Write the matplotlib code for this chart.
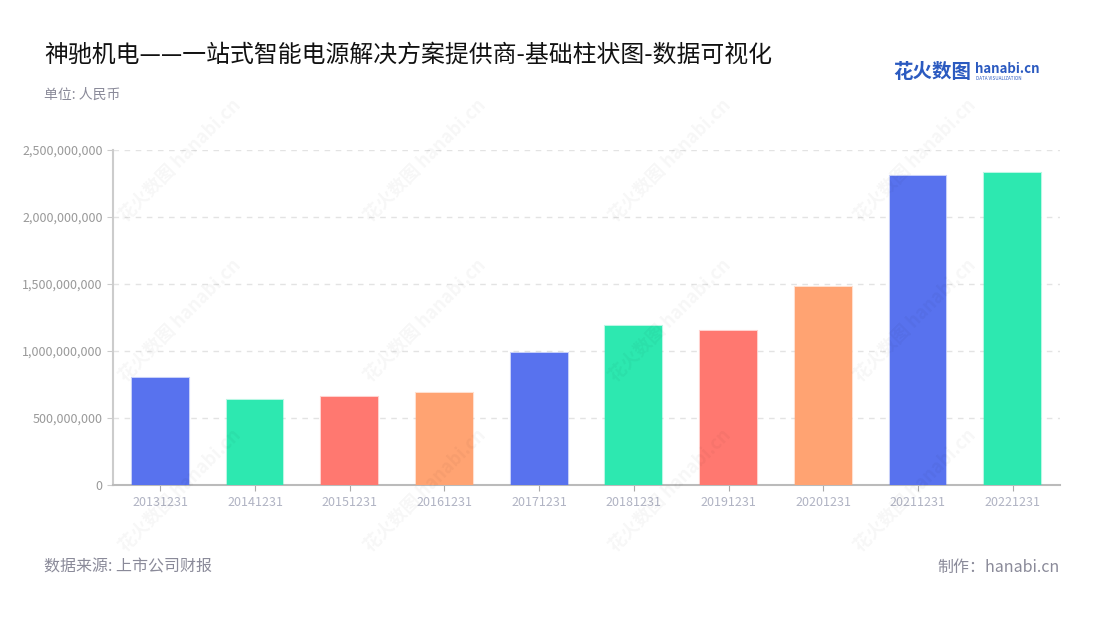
import matplotlib.pyplot as plt
from matplotlib.ticker import FuncFormatter

plt.rcParams['font.family'] = ['Noto Sans CJK SC', 'DejaVu Sans']

# 数据
dates = ['20131231', '20141231', '20151231', '20161231', '20171231',
         '20181231', '20191231', '20201231', '20211231', '20221231']
values = [800e6, 638e6, 653e6, 690e6, 988e6,
          1190e6, 1152e6, 1480e6, 2303e6, 2332e6]
palette = ['#5872EE', '#2DE8B0', '#FF7870', '#FFA372']
yticks = [0, 500e6, 1000e6, 1500e6, 2000e6, 2500e6]

fig = plt.figure(figsize=(11, 6.2), dpi=100)
ax = fig.add_axes([113/1100, 1-485/620, (1060-113)/1100, 335/620])

# 水印
for wx in [150, 395, 640, 885]:
    for wy in [170, 330, 500]:
        fig.text((wx+30)/1100, 1-(wy-10)/620, '花火数图 hanabi.cn', rotation=45,
                 fontsize=13, color='#000000', alpha=0.035, fontweight='bold',
                 ha='center', va='center', zorder=0)

cols = [palette[i % 4] for i in range(len(dates))]
edges = [c + '55' for c in cols]
ax.bar(range(len(dates)), values, width=0.6, color=cols, edgecolor=edges,
       linewidth=1.5, zorder=3)

ax.set_xlim(-0.5, len(dates)-0.5)
ax.set_ylim(0, 2500e6)
ax.set_yticks(yticks)
ax.yaxis.set_major_formatter(FuncFormatter(lambda v, p: f'{int(v):,}'))
ax.set_xticks(range(len(dates)))
ax.set_xticklabels(dates)
ax.grid(axis='y', color='#e3e3e3', linestyle=(0, (4, 4)), linewidth=1, zorder=0)
ax.set_axisbelow(True)
for s in ['top', 'right']:
    ax.spines[s].set_visible(False)
ax.spines['left'].set_color('#cccccc')
ax.spines['bottom'].set_color('#bbbbbb')
ax.spines['left'].set_linewidth(1.5)
ax.spines['bottom'].set_linewidth(1.5)
ax.tick_params(axis='y', colors='#cccccc', labelcolor='#999999', labelsize=9, length=4)
ax.tick_params(axis='x', colors='#aaaaaa', labelcolor='#b0b3c3', labelsize=9, length=4, pad=4)

# 标题等
fig.text(44/1100, 1-55/620, '神驰机电——一站式智能电源解决方案提供商-基础柱状图-数据可视化',
         fontsize=17.2, color='#111111', va='center')
fig.text(44/1100, 1-95/620, '单位: 人民币', fontsize=10, color='#8a8a99', va='center')
fig.text(44/1100, 1-567/620, '数据来源: 上市公司财报', fontsize=11.5, color='#8a8a99', va='center')
fig.text(1060/1100, 1-567/620, '制作：hanabi.cn', fontsize=11.5, color='#8a8a99',
         va='center', ha='right')

# logo
fig.text(893/1100, 1-72/620, '花火数图', fontsize=14, color='#2B5AC0', fontweight='bold',
         va='center')
fig.text(975/1100, 1-69/620, 'hanabi.cn', fontsize=9.5, color='#2B5AC0', fontweight='bold',
         va='center')
fig.text(976/1100, 1-79/620, 'DATA VISUALIZATION', fontsize=3.3, color='#2B5AC0',
         va='center')

fig.savefig('out.png', dpi=100)
